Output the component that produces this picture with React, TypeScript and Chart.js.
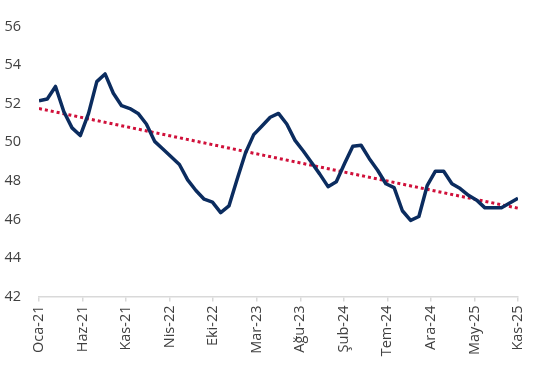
import React, { useEffect, useRef } from "react";
import { Chart, registerables } from "chart.js";

Chart.register(...registerables);

// Monthly index values, Oca-21 .. Kas-25 (59 months)
const months: number[] = Array.from({ length: 59 }, (_, i) => i);
const values: number[] = [
  52.15, 52.25, 52.9, 51.6, 50.75, 50.35, 51.5, 53.15, 53.55, 52.55,
  51.9, 51.75, 51.5, 50.95, 50.05, 49.65, 49.25, 48.85, 48.05, 47.5,
  47.05, 46.9, 46.35, 46.7, 48.1, 49.45, 50.4, 50.85, 51.3, 51.5,
  50.95, 50.1, 49.55, 48.95, 48.35, 47.7, 47.95, 48.9, 49.8, 49.85,
  49.15, 48.55, 47.85, 47.65, 46.45, 45.95, 46.15, 47.75, 48.5, 48.5,
  47.85, 47.6, 47.25, 47.0, 46.6, 46.6, 46.6, 46.85, 47.1,
];
const tickLabels: string[] = [
  "Oca-21", "Haz-21", "Kas-21", "Nis-22", "Eki-22", "Mar-23",
  "Ağu-23", "Şub-24", "Tem-24", "Ara-24", "May-25", "Kas-25",
];
const yMin = 42;
const yMax = 56;
const yStep = 2;

// Linear trend (least squares) over the series, as the chart's trendline
function trendEnds(xs: number[], ys: number[]): { x: number; y: number }[] {
  const n = xs.length;
  const mx = xs.reduce((a, b) => a + b, 0) / n;
  const my = ys.reduce((a, b) => a + b, 0) / n;
  let sxy = 0;
  let sxx = 0;
  for (let i = 0; i < n; i++) {
    sxy += (xs[i] - mx) * (ys[i] - my);
    sxx += (xs[i] - mx) * (xs[i] - mx);
  }
  const b = sxy / sxx;
  const a = my - b * mx;
  return [
    { x: xs[0], y: a + b * xs[0] },
    { x: xs[n - 1], y: a + b * xs[n - 1] },
  ];
}

export default function App() {
  const ref = useRef<HTMLCanvasElement | null>(null);

  useEffect(() => {
    document.body.style.margin = "0";
    const ctx = ref.current;
    if (!ctx) return;
    const lastX = months[months.length - 1];
    const font = { family: "'Open Sans', 'Noto Sans', sans-serif", size: 14.5 };
    const chart = new Chart(ctx, {
      type: "line",
      data: {
        datasets: [
          {
            label: "Trend",
            data: trendEnds(months, values),
            borderColor: "#D0103A",
            borderWidth: 3,
            borderDash: [3, 3],
            pointRadius: 0,
            fill: false,
            order: 2,
          },
          {
            label: "Seri",
            data: months.map((m, i) => ({ x: m, y: values[i] })),
            borderColor: "#0B2C5F",
            borderWidth: 3.5,
            pointRadius: 0,
            tension: 0,
            fill: false,
            borderJoinStyle: "round",
            order: 1,
          },
        ],
      },
      options: {
        responsive: false,
        animation: false,
        layout: { padding: { top: 22, right: 22, bottom: 0, left: 0 } },
        plugins: {
          legend: { display: false },
          tooltip: { enabled: false },
        },
        scales: {
          x: {
            type: "linear",
            min: 0,
            max: lastX,
            afterBuildTicks: (scale: any) => {
              scale.ticks = tickLabels.map((_, k) => ({
                value: (k * lastX) / (tickLabels.length - 1),
              }));
            },
            afterFit: (scale: any) => {
              scale.height = 75.5;
            },
            border: { display: true, color: "#D9D9D9", width: 1.5 },
            grid: {
              drawOnChartArea: false,
              drawTicks: true,
              tickLength: 5,
              color: "#D9D9D9",
              lineWidth: 1.5,
            },
            ticks: {
              autoSkip: false,
              minRotation: 90,
              maxRotation: 90,
              padding: 4,
              color: "#404040",
              font,
              callback: (_v: any, idx: number) => tickLabels[idx],
            },
          },
          y: {
            min: yMin,
            max: yMax,
            afterFit: (scale: any) => {
              scale.width = 39;
            },
            border: { display: false },
            grid: { display: false, drawTicks: false },
            ticks: {
              stepSize: yStep,
              padding: 18,
              color: "#404040",
              font,
            },
          },
        },
      },
    });
    return () => chart.destroy();
  }, []);

  return (
    <div style={{ position: "absolute", left: 0, top: 0, width: 540, height: 372 }}>
      <canvas ref={ref} width={540} height={372} style={{ width: 540, height: 372 }} />
    </div>
  );
}
